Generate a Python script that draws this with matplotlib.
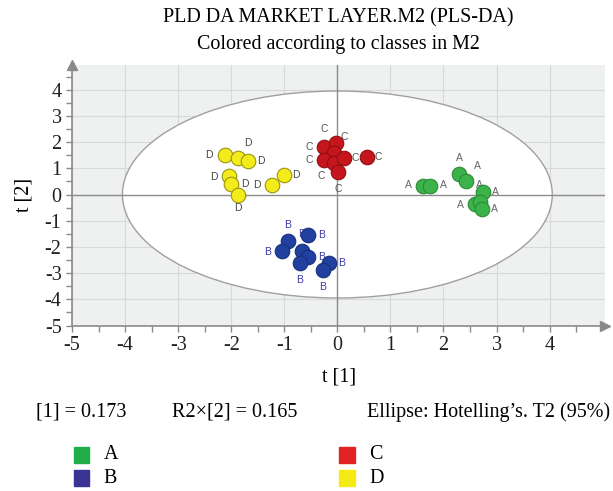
import numpy as np
import matplotlib.pyplot as plt
from matplotlib.patches import Ellipse, Rectangle

# scores t[1], t[2] per class
A_t1 = [1.61, 1.75, 2.30, 2.43, 2.74, 2.59, 2.68, 2.73]
A_t2 = [0.34, 0.34, 0.79, 0.53, 0.11, -0.36, -0.28, -0.57]
B_t1 = [-0.93, -1.05, -0.55, -0.67, -0.55, -0.70, -0.16, -0.27]
B_t2 = [-1.77, -2.15, -1.55, -2.15, -2.38, -2.61, -2.61, -2.89]
C_t1 = [-0.26, -0.02, -0.07, -0.26, -0.07, 0.12, 0.01, 0.55]
C_t2 = [1.83, 1.96, 1.58, 1.30, 1.20, 1.39, 0.84, 1.43]
D_t1 = [-2.12, -1.88, -1.68, -2.05, -2.01, -1.88, -1.23, -1.01]
D_t2 = [1.51, 1.39, 1.28, 0.72, 0.40, -0.02, 0.36, 0.75]

classes = ['A', 'B', 'C', 'D']
ellipse_w, ellipse_h = 8.1, 7.9   # Hotelling T2 (95%)
r2x = ['[1] = 0.173', 'R2\u00d7[2] = 0.165', 'Ellipse: Hotelling\u2019s. T2 (95%)']

# label offsets (pixels) for each point
offs = {
    'A': [(-14, 1), (13, 1), (0, 16), (11, 15), (13, 0), (-14, -1), (0, 17), (12, 0)],
    'B': [(0, 16), (-14, -1), (13, 0), (0, 17), (13, 0), (-1, -17), (13, 0), (0, -17)],
    'C': [(-14, 0), (8, 6), (-9, 24), (-14, 0), (-12, -13), (12, 0), (0, -17), (12, 0)],
    'D': [(-16, 0), (10, 15), (13, 0), (-15, -1), (14, 0), (0, -13), (-15, 0), (12, 0)],
}
face = {'A': '#3cb34a', 'B': '#2140a0', 'C': '#c4161c', 'D': '#f3ec1a'}
edge = {'A': '#2a8a35', 'B': '#16307a', 'C': '#8e0e12', 'D': '#9a9410'}
lblc = {'A': '#666666', 'B': '#3a3aa8', 'C': '#555555', 'D': '#444444'}
legc = {'A': '#1fae4a', 'B': '#3b3393', 'C': '#e02424', 'D': '#f5ea14'}
data = {'A': (A_t1, A_t2), 'B': (B_t1, B_t2), 'C': (C_t1, C_t2), 'D': (D_t1, D_t2)}

plt.rcParams['font.family'] = ['Liberation Serif', 'DejaVu Serif']
plt.rcParams['axes.unicode_minus'] = False

fig = plt.figure(figsize=(6.13, 4.91), dpi=100)
ax = fig.add_axes([0.1175, 0.336, 0.870, 0.532])
ax.set_facecolor('#eff0f0')
ax.set_xlim(-5, 5.05)
ax.set_ylim(-5.02, 4.95)

ax.set_xticks(range(-5, 5))
ax.set_yticks(range(-5, 5))
ax.set_xticks(np.arange(-4.5, 5, 1), minor=True)
ax.set_yticks(np.arange(-4.5, 5, 1), minor=True)
ax.grid(True, color='#d8d9d9', lw=0.8)
ax.set_axisbelow(True)
ax.axhline(0, color='#8c8c8c', lw=1.0, zorder=1.5)
ax.axvline(0, color='#8c8c8c', lw=1.0, zorder=1.5)

ax.add_patch(Ellipse((0, 0), ellipse_w, ellipse_h, facecolor='white',
                     edgecolor='#a0a0a0', lw=1.0, zorder=1))

for s in ['top', 'right']:
    ax.spines[s].set_visible(False)
for s in ['left', 'bottom']:
    ax.spines[s].set_color('#8a8a8a')
    ax.spines[s].set_linewidth(1.2)
ax.plot(1, 0, '>', color='#8a8a8a', ms=7, transform=ax.transAxes, clip_on=False)
ax.plot(0, 1, '^', color='#8a8a8a', ms=7, transform=ax.transAxes, clip_on=False)
ax.tick_params(which='both', direction='out', color='#8a8a8a', length=4, width=1)
ax.tick_params(labelsize=14.5, colors='#8a8a8a', labelcolor='#222222')

for c in classes:
    xs, ys = data[c]
    for x, y, o in zip(xs, ys, offs[c]):
        ax.annotate(c, (x, y), xytext=o, textcoords='offset pixels',
                    ha='center', va='center', fontsize=7.5,
                    family=['Liberation Sans', 'DejaVu Sans'],
                    color=lblc[c], zorder=3)
    ax.scatter(xs, ys, s=110, color=face[c], edgecolor=edge[c], lw=0.8, zorder=4)

ax.set_xlabel('t [1]', fontsize=14.5, labelpad=9)
ax.set_ylabel('t [2]', fontsize=14.5, labelpad=8)

fig.text(0.552, 0.963, 'PLD DA MARKET LAYER.M2 (PLS-DA)', ha='center', va='center', fontsize=14.4)
fig.text(0.552, 0.910, 'Colored according to classes in M2', ha='center', va='center', fontsize=14.4)

for x, t in zip([0.0587, 0.2806, 0.5987], r2x):
    fig.text(x, 0.160, t, fontsize=14.5, va='center')

leg_pos = {'A': (0.133, 0.074), 'B': (0.133, 0.026), 'C': (0.566, 0.074), 'D': (0.566, 0.026)}
for c in classes:
    x, y = leg_pos[c]
    fig.patches.append(Rectangle((x - 0.013, y - 0.0165), 0.026, 0.033,
                                 transform=fig.transFigure, color=legc[c]))
    fig.text(x + 0.036, y, c, fontsize=14.5, va='center')

fig.savefig('out.png', dpi=100)
